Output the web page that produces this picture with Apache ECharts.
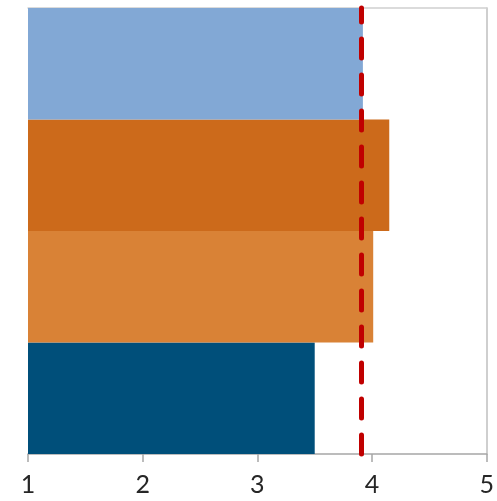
<!DOCTYPE html>
<html><head><meta charset="utf-8">
<script src="https://cdn.jsdelivr.net/npm/echarts@6/dist/echarts.min.js"></script>
<style>html,body{margin:0;padding:0;background:#fff}#c{width:497px;height:501px}</style>
</head><body><div id="c"></div>
<script>
const categories = ['D', 'C', 'B', 'A'];
const values = [3.5, 4.01, 4.15, 3.92];
const barColors = ['#004F7A', '#D98236', '#CC6A1B', '#82A8D5'];
const referenceValue = 3.91;
const xTicks = [1, 2, 3, 4, 5];

const chart = echarts.init(document.getElementById('c'));
chart.setOption({
  animation: false,
  grid: { left: 28, right: 10, top: 8, bottom: 47 },
  xAxis: [{
    type: 'value', min: xTicks[0], max: xTicks[xTicks.length - 1], interval: 1,
    axisLine: { show: true, lineStyle: { color: '#A6A6A6', width: 1.5 } },
    axisTick: { show: true, length: 8, lineStyle: { color: '#A6A6A6', width: 1.5 } },
    axisLabel: { fontSize: 25, color: '#262626', fontFamily: 'Lato', margin: 18 },
    splitLine: { show: false }
  }, {
    type: 'value', position: 'top', min: xTicks[0], max: xTicks[xTicks.length - 1],
    axisLine: { show: true, lineStyle: { color: '#D0D0D0', width: 1.5 } },
    axisTick: { show: false }, axisLabel: { show: false }, splitLine: { show: false }
  }],
  yAxis: [{
    type: 'category', data: categories,
    axisLine: { show: false }, axisTick: { show: false }, axisLabel: { show: false },
    splitLine: { show: false }
  }, {
    type: 'category', data: categories, position: 'right',
    axisLine: { show: true, lineStyle: { color: '#BFBFBF', width: 1.5 } },
    axisTick: { show: false }, axisLabel: { show: false }, splitLine: { show: false }
  }],
  series: [{
    type: 'bar',
    barCategoryGap: 0,
    data: values.map((v, i) => ({ value: v, itemStyle: { color: barColors[i] } })),
    markLine: {
      silent: true, symbol: 'none', label: { show: false },
      lineStyle: { color: '#C00000', width: 5, type: [19, 17], cap: 'round' },
      data: [{ xAxis: referenceValue }]
    }
  }]
});
</script></body></html>
